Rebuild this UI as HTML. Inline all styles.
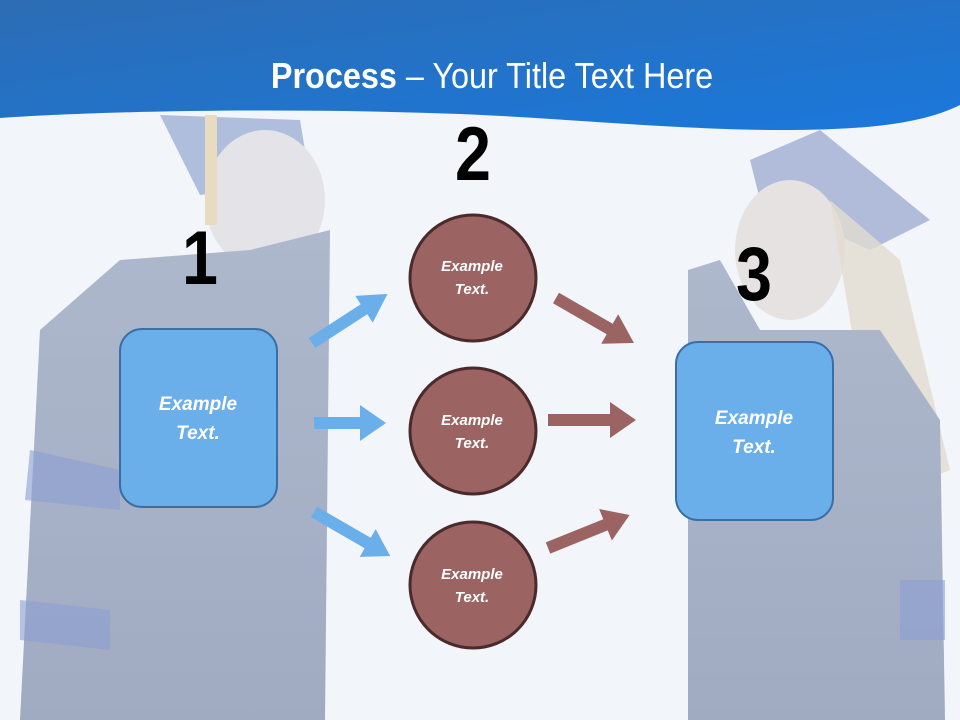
<!DOCTYPE html>
<html><head><meta charset="utf-8"><style>
html,body{margin:0;padding:0;width:960px;height:720px;overflow:hidden;background:#f2f6fb}
svg{display:block}
</style></head><body>
<svg width="960" height="720" viewBox="0 0 960 720" xmlns="http://www.w3.org/2000/svg">
<defs>
<linearGradient id="bn" x1="0" y1="0" x2="1" y2="1">
<stop offset="0" stop-color="#2c6db5"/><stop offset="1" stop-color="#1a78dc"/>
</linearGradient>
<linearGradient id="gw" x1="0" y1="0" x2="0" y2="1">
<stop offset="0" stop-color="#aeb8cc"/><stop offset="1" stop-color="#a0abc2"/>
</linearGradient>
</defs>
<rect width="960" height="720" fill="#f2f6fb"/>
<path d="M160 115 L300 120 L310 180 L200 195 Z" fill="#9fb0d6" opacity="0.8"/>
<ellipse cx="265" cy="200" rx="60" ry="70" fill="#e3e3e8"/>
<path d="M20 720 L40 330 L120 260 L250 250 L330 230 L325 720 Z" fill="url(#gw)"/>
<path d="M30 450 L120 470 L120 510 L25 500 Z" fill="#8c9ed4" opacity="0.6"/>
<path d="M20 600 L110 610 L110 650 L20 640 Z" fill="#8c9ed4" opacity="0.6"/>
<rect x="205" y="115" width="12" height="110" fill="#e7dcc0"/>
<path d="M750 160 L820 130 L930 220 L870 250 L760 200 Z" fill="#a4b1d4" opacity="0.85"/>
<ellipse cx="790" cy="250" rx="55" ry="70" fill="#e6e2e2"/>
<path d="M830 200 L900 260 L950 470 L880 500 Z" fill="#e2dccf" opacity="0.8"/>
<path d="M688 720 L688 270 L720 260 L760 330 L880 330 L940 420 L945 720 Z" fill="url(#gw)"/>
<path d="M900 580 L945 580 L945 640 L900 640 Z" fill="#8c9ed4" opacity="0.6"/>
<path d="M0 0 H960 V105 C920 125 860 130 780 130 C680 130 560 118 460 114 C300 108 120 110 0 118 Z" fill="url(#bn)"/>
<text transform="translate(492,88) scale(0.9,1)" text-anchor="middle" fill="#fff" font-family="Liberation Sans, sans-serif" font-size="36"><tspan font-weight="bold">Process</tspan> – Your Title Text Here</text>
<g font-family="Liberation Sans, sans-serif" font-weight="bold" font-size="76" text-anchor="middle" fill="#000">
<text transform="translate(200,284) scale(0.85,1)">1</text>
<text transform="translate(473,180) scale(0.85,1)">2</text>
<text transform="translate(754,300) scale(0.85,1)">3</text>
</g>
<g fill="#6aaeea">
<g transform="translate(312,343) rotate(-33)"><path d="M0 -6 H62 V-16 L90 0 L62 16 V6 H0 Z"/></g>
<g transform="translate(314,423)"><path d="M0 -6 H46 V-18 L72 0 L46 18 V6 H0 Z"/></g>
<g transform="translate(314,512) rotate(30)"><path d="M0 -6 H62 V-16 L88 0 L62 16 V6 H0 Z"/></g>
</g>
<g fill="#9b6463">
<g transform="translate(556,298) rotate(30)"><path d="M0 -6 H62 V-17 L90 0 L62 17 V6 H0 Z"/></g>
<g transform="translate(548,420)"><path d="M0 -6 H62 V-18 L88 0 L62 18 V6 H0 Z"/></g>
<g transform="translate(548,548) rotate(-22)"><path d="M0 -6 H62 V-17 L88 0 L62 17 V6 H0 Z"/></g>
</g>
<rect x="120" y="329" width="157" height="178" rx="22" fill="#6aaeea" stroke="#3a6ea5" stroke-width="2"/>
<rect x="676" y="342" width="157" height="178" rx="22" fill="#6aaeea" stroke="#3a6ea5" stroke-width="2"/>
<g fill="#9b6463" stroke="#4a2a2a" stroke-width="3">
<circle cx="473" cy="278" r="63"/><circle cx="473" cy="431" r="63"/><circle cx="473" cy="585" r="63"/>
</g>
<g font-family="Liberation Sans, sans-serif" font-weight="bold" font-style="italic" fill="#fff" text-anchor="middle">
<g font-size="19">
<text x="198" y="410">Example</text><text x="198" y="439">Text.</text>
<text x="754" y="424">Example</text><text x="754" y="453">Text.</text>
</g>
<g font-size="15">
<text x="472" y="271">Example</text><text x="472" y="294">Text.</text>
<text x="472" y="425">Example</text><text x="472" y="448">Text.</text>
<text x="472" y="579">Example</text><text x="472" y="602">Text.</text>
</g>
</g>
</svg>
</body></html>
